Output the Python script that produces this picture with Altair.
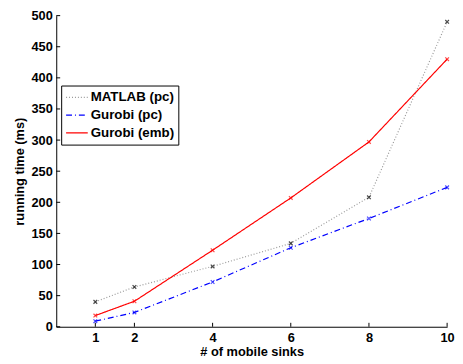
import altair as alt
import pandas as pd

x_vals = [1, 2, 4, 6, 8, 10]
series_names = ["MATLAB (pc)", "Gurobi (pc)", "Gurobi (emb)"]
matlab_pc = [40, 64, 97, 134, 208, 490]
gurobi_pc = [9, 23, 72, 127, 174, 224]
gurobi_emb = [18, 41, 123, 207, 297, 430]
x_ticks = [1, 2, 4, 6, 8, 10]
y_ticks = [0, 50, 100, 150, 200, 250, 300, 350, 400, 450, 500]

rows = []
for name, vals in zip(series_names, [matlab_pc, gurobi_pc, gurobi_emb]):
    for xv, yv in zip(x_vals, vals):
        rows.append({"series": name, "x": xv, "y": yv})
df = pd.DataFrame(rows)

FONT = "Liberation Sans"
W, H = 397, 316

xscale = alt.Scale(domain=[0, 10], nice=False, zero=False)
yscale = alt.Scale(domain=[0, 500], nice=False)

common_axis = dict(ticks=False, grid=False, domainColor="black", domainWidth=1,
                   labelFont=FONT, labelFontSize=13, labelFontWeight="bold", labelColor="black",
                   titleFont=FONT, titleFontSize=13, titleFontWeight="bold", titleColor="black",
                   labelOverlap=False, labelFlush=False)
xaxis = alt.Axis(values=x_ticks, title="# of mobile sinks", labelPadding=5, titlePadding=1, **common_axis)
yaxis = alt.Axis(values=y_ticks, title="running time (ms)", labelPadding=4, titlePadding=5, **common_axis)

legend_kw = dict(title=None, orient="none", legendX=5, legendY=71,
                 symbolType="stroke", symbolSize=484, symbolStrokeWidth=1.2,
                 clipHeight=16, rowPadding=2, padding=4, labelOffset=2,
                 labelFont=FONT, labelFontSize=13.5, labelFontWeight="bold",
                 labelColor="black", fillColor="white", strokeColor="black")

lines = alt.Chart(df).mark_line(strokeWidth=1.2).encode(
    x=alt.X("x:Q", scale=xscale, axis=xaxis),
    y=alt.Y("y:Q", scale=yscale, axis=yaxis),
    color=alt.Color("series:N",
                    scale=alt.Scale(domain=series_names, range=["#9a9a9a", "#0000ff", "#ff0000"]),
                    legend=alt.Legend(**legend_kw)),
    strokeDash=alt.StrokeDash("series:N",
                              scale=alt.Scale(domain=series_names, range=[[1, 2], [6, 3, 1, 3], [1, 0]]),
                              legend=alt.Legend(**legend_kw)),
    order="x:Q",
)

points = alt.Chart(df).mark_point(shape="M-1,-1L1,1M-1,1L1,-1", filled=False, size=14, strokeWidth=1.2).encode(
    x=alt.X("x:Q", scale=xscale, axis=xaxis),
    y=alt.Y("y:Q", scale=yscale, axis=yaxis),
    stroke=alt.Stroke("series:N",
                      scale=alt.Scale(domain=series_names, range=["#000000", "#0000ff", "#ff0000"]),
                      legend=None),
)

xt = pd.DataFrame({"t": x_ticks})
yt = pd.DataFrame({"t": y_ticks})
xticks = alt.Chart(xt).mark_rule(color="black", strokeWidth=1).encode(
    x=alt.X("t:Q", scale=xscale, axis=xaxis), y=alt.value(H), y2=alt.value(H - 4))
yticks = alt.Chart(yt).mark_rule(color="black", strokeWidth=1).encode(
    y=alt.Y("t:Q", scale=yscale, axis=yaxis), x=alt.value(0), x2=alt.value(4))

chart = alt.layer(lines, points, xticks, yticks).properties(
    width=W, height=H,
    background="white",
    autosize=alt.AutoSizeParams(type="none"),
    padding={"left": 49, "top": 5, "right": 8, "bottom": 30},
).configure_view(stroke=None)

chart.save("out.html", embed_options={"renderer": "svg", "actions": False})
